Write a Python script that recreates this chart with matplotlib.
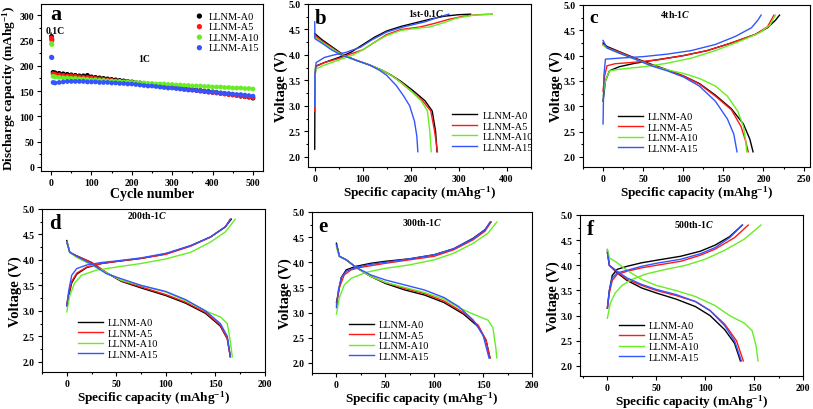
import numpy as np
import matplotlib
matplotlib.use("Agg")
import matplotlib.pyplot as plt
from matplotlib.ticker import AutoMinorLocator, MultipleLocator

plt.rcParams['font.family'] = ['Liberation Serif', 'DejaVu Serif']
plt.rcParams['font.weight'] = 'bold'
plt.rcParams['axes.labelweight'] = 'bold'
plt.rcParams['mathtext.fontset'] = 'custom'
plt.rcParams['mathtext.rm'] = 'Liberation Serif:bold'
plt.rcParams['mathtext.it'] = 'Liberation Serif:bold:italic'
plt.rcParams['mathtext.bf'] = 'Liberation Serif:bold'

samples = ["LLNM-A0", "LLNM-A5", "LLNM-A10", "LLNM-A15"]
colors = ["#000000", "#ff1a1a", "#66ee22", "#3355ff"]

# ---- panel a: discharge capacity vs cycle ----
cyc_01C = [1, 2]
a_A0_01C = [258, 252]
a_A5_01C = [255, 250]
a_A10_01C = [244, 242]
a_A15_01C = [217, 216]

cyc_1C = [5] + list(range(10, 501, 10))
a_A0_1C = [187, 186, 185, 184, 183, 182, 181, 180, 180, 181, 178, 177, 176, 175, 174, 173, 172,
           171, 170, 169, 168, 167, 166, 165, 164, 163, 162, 161, 160, 159, 158, 157, 156, 155,
           154, 153, 152, 151, 150, 149, 148, 147, 146, 145, 144, 143, 142, 140, 139, 138, 136]
a_A5_1C = [184, 183, 182, 181, 180, 180, 179, 178, 177, 177, 176, 175, 174, 173, 172, 171, 170,
           169, 168, 168, 167, 166, 165, 164, 163, 162, 161, 160, 159, 158, 157, 156, 155, 154,
           153, 152, 151, 150, 149, 148, 147, 146, 145, 144, 143, 142, 141, 140, 139, 138, 137]
a_A10_1C = [179, 178, 177, 176, 176, 175, 175, 174, 174, 173, 172, 172, 171, 171, 170, 170, 169,
            169, 168, 168, 167, 167, 166, 166, 165, 165, 164, 164, 164, 163, 163, 162, 162, 161,
            161, 160, 160, 160, 159, 159, 158, 158, 158, 157, 157, 156, 156, 156, 155, 155, 154]
a_A15_1C = [167, 166, 167, 168, 169, 169, 169, 169, 169, 168, 168, 168, 167, 167, 167, 166, 166,
            165, 165, 164, 164, 163, 162, 161, 160, 160, 159, 158, 157, 156, 156, 155, 154, 153,
            152, 152, 151, 150, 149, 148, 148, 147, 146, 145, 145, 144, 143, 143, 142, 141, 140]

# ---- panel b: 1st cycle 0.1C, (capacity, voltage) ----
b_A0_chg = [(0, 2.15), (0.5, 3.5), (2, 3.78), (20, 3.85), (50, 3.95), (75, 4.05), (100, 4.2),
            (125, 4.35), (150, 4.47), (180, 4.56), (210, 4.63), (240, 4.70), (270, 4.76),
            (300, 4.79), (325, 4.8)]
b_A5_chg = [(0, 2.9), (0.5, 3.5), (2, 3.77), (20, 3.85), (50, 3.93), (75, 4.02), (100, 4.1),
            (125, 4.25), (150, 4.4), (180, 4.5), (220, 4.55), (250, 4.62), (280, 4.7),
            (310, 4.76), (340, 4.79), (370, 4.8)]
b_A10_chg = [(0, 3.0), (0.5, 3.5), (2, 3.72), (20, 3.8), (50, 3.9), (80, 4.0), (100, 4.1),
             (125, 4.25), (150, 4.38), (180, 4.48), (210, 4.52), (240, 4.55), (265, 4.62),
             (295, 4.72), (330, 4.78), (370, 4.8)]
b_A15_chg = [(0, 3.0), (0.5, 3.6), (3, 3.85), (20, 3.95), (40, 4.0), (65, 4.05), (95, 4.15),
             (120, 4.3), (150, 4.45), (185, 4.55), (230, 4.65), (260, 4.75), (280, 4.8)]
b_A0_dis = [(0, 4.42), (15, 4.3), (30, 4.2), (45, 4.1), (60, 4.0), (85, 3.9), (115, 3.8),
            (140, 3.7), (160, 3.6), (180, 3.48), (205, 3.3), (230, 3.1), (245, 2.9),
            (252, 2.5), (255, 2.1)]
b_A5_dis = [(0, 4.38), (15, 4.27), (30, 4.18), (45, 4.08), (60, 4.0), (85, 3.9), (115, 3.8),
            (140, 3.7), (160, 3.6), (180, 3.46), (200, 3.3), (225, 3.1), (242, 2.9),
            (250, 2.5), (256, 2.1)]
b_A10_dis = [(0, 4.35), (15, 4.25), (30, 4.16), (45, 4.07), (60, 3.99), (85, 3.9), (115, 3.8),
             (140, 3.7), (160, 3.6), (180, 3.46), (200, 3.3), (222, 3.1), (235, 2.9),
             (240, 2.5), (243, 2.1)]
b_A15_dis = [(0, 4.65), (0.5, 4.32), (20, 4.2), (35, 4.1), (55, 4.0), (85, 3.9), (115, 3.8),
             (135, 3.7), (150, 3.6), (170, 3.4), (185, 3.2), (198, 3.0), (208, 2.7),
             (213, 2.4), (215, 2.1)]

# ---- panel c: 4th cycle 1C ----
c_A0_chg = [(0, 3.1), (3, 3.5), (8, 3.7), (20, 3.78), (40, 3.85), (60, 3.9), (100, 4.0),
            (130, 4.1), (160, 4.25), (190, 4.42), (205, 4.55), (215, 4.7), (220, 4.8)]
c_A5_chg = [(0, 3.3), (2, 3.6), (5, 3.8), (15, 3.84), (40, 3.87), (70, 3.92), (100, 4.0),
            (130, 4.1), (160, 4.25), (190, 4.42), (205, 4.57), (213, 4.8)]
c_A10_chg = [(0, 3.2), (3, 3.5), (8, 3.7), (20, 3.73), (50, 3.78), (80, 3.85), (110, 3.95),
             (140, 4.1), (170, 4.28), (195, 4.45), (208, 4.6), (215, 4.8)]
c_A15_chg = [(0, 2.65), (1, 3.6), (3, 3.93), (20, 3.95), (50, 3.98), (80, 4.03), (110, 4.1),
             (140, 4.22), (165, 4.38), (185, 4.55), (193, 4.7), (197, 4.8)]
c_A0_dis = [(0, 4.25), (5, 4.18), (20, 4.08), (40, 3.95), (60, 3.83), (80, 3.72), (100, 3.6),
            (120, 3.45), (140, 3.22), (160, 2.95), (175, 2.65), (183, 2.35), (187, 2.1)]
c_A5_dis = [(0, 4.22), (5, 4.16), (20, 4.07), (40, 3.94), (60, 3.82), (80, 3.71), (100, 3.6),
            (120, 3.44), (140, 3.2), (160, 2.93), (172, 2.6), (178, 2.3), (181, 2.1)]
c_A10_dis = [(0, 4.2), (5, 4.15), (20, 4.05), (40, 3.93), (60, 3.8), (80, 3.72), (100, 3.65),
             (120, 3.55), (140, 3.4), (155, 3.2), (168, 2.9), (175, 2.6), (178, 2.3), (179, 2.1)]
c_A15_dis = [(0, 4.3), (5, 4.15), (20, 4.05), (40, 3.93), (60, 3.8), (80, 3.7), (100, 3.58),
             (120, 3.4), (140, 3.1), (155, 2.75), (163, 2.45), (167, 2.1)]

# ---- panel d: 200th cycle 1C ----
d_A0_chg = [(0, 3.1), (2, 3.3), (5, 3.55), (10, 3.72), (20, 3.85), (35, 3.93), (50, 3.97),
            (75, 4.03), (100, 4.12), (125, 4.28), (145, 4.45), (160, 4.65), (166, 4.8)]
d_A5_chg = [(0, 3.12), (2, 3.35), (5, 3.58), (10, 3.74), (20, 3.86), (35, 3.93), (50, 3.97),
            (75, 4.03), (100, 4.11), (125, 4.27), (145, 4.45), (160, 4.65), (165, 4.8)]
d_A10_chg = [(0, 2.98), (3, 3.3), (8, 3.55), (15, 3.7), (30, 3.8), (50, 3.86), (75, 3.93),
             (100, 4.02), (125, 4.15), (145, 4.35), (160, 4.55), (170, 4.8)]
d_A15_chg = [(0, 3.1), (2, 3.4), (5, 3.7), (10, 3.83), (20, 3.9), (35, 3.95), (50, 3.98),
             (75, 4.04), (100, 4.13), (125, 4.28), (145, 4.45), (160, 4.65), (165, 4.8)]
d_A0_dis = [(0, 4.38), (3, 4.15), (10, 4.08), (25, 3.95), (40, 3.75), (55, 3.58), (75, 3.45),
            (100, 3.3), (120, 3.15), (140, 2.95), (155, 2.7), (162, 2.45), (165, 2.1)]
d_A5_dis = [(0, 4.36), (3, 4.15), (10, 4.08), (25, 3.95), (40, 3.75), (55, 3.59), (75, 3.47),
            (100, 3.32), (120, 3.17), (140, 2.97), (155, 2.72), (162, 2.45), (165, 2.1)]
d_A10_dis = [(0, 4.35), (3, 4.15), (10, 4.05), (25, 3.9), (40, 3.75), (55, 3.6), (75, 3.5),
             (100, 3.37), (120, 3.2), (140, 3.0), (155, 2.88), (162, 2.75), (165, 2.4),
             (167, 2.1)]
d_A15_dis = [(0, 4.35), (3, 4.15), (10, 4.07), (25, 3.92), (40, 3.73), (55, 3.63), (75, 3.5),
             (100, 3.38), (120, 3.22), (140, 3.0), (155, 2.75), (162, 2.5), (165, 2.1)]

# ---- panel e: 300th cycle 1C ----
e_A0_chg = [(0, 3.2), (2, 3.4), (5, 3.7), (10, 3.85), (20, 3.92), (35, 3.98), (50, 4.02),
            (75, 4.07), (100, 4.15), (120, 4.27), (140, 4.48), (152, 4.65), (158, 4.8)]
e_A5_chg = [(0, 3.15), (3, 3.5), (8, 3.75), (15, 3.85), (25, 3.9), (50, 3.98), (75, 4.05),
            (100, 4.12), (120, 4.25), (140, 4.45), (152, 4.62), (158, 4.8)]
e_A10_chg = [(0, 2.97), (3, 3.3), (8, 3.55), (15, 3.68), (30, 3.8), (50, 3.88), (75, 3.95),
             (100, 4.05), (120, 4.18), (140, 4.38), (155, 4.58), (164, 4.8)]
e_A15_chg = [(0, 3.1), (2, 3.45), (5, 3.7), (10, 3.82), (20, 3.9), (35, 3.96), (50, 4.0),
             (75, 4.07), (100, 4.15), (120, 4.27), (140, 4.47), (152, 4.65), (157, 4.8)]
e_A0_dis = [(0, 4.38), (3, 4.12), (10, 4.05), (20, 3.9), (35, 3.72), (50, 3.58), (70, 3.45),
            (90, 3.35), (110, 3.2), (130, 2.97), (145, 2.72), (153, 2.45), (157, 2.1)]
e_A5_dis = [(0, 4.35), (3, 4.12), (10, 4.05), (20, 3.9), (35, 3.72), (50, 3.6), (70, 3.48),
            (90, 3.38), (110, 3.23), (130, 3.0), (145, 2.75), (153, 2.45), (157, 2.1)]
e_A10_dis = [(0, 4.3), (3, 4.12), (10, 4.05), (20, 3.9), (35, 3.72), (50, 3.6), (70, 3.5),
             (90, 3.4), (110, 3.27), (125, 3.1), (140, 2.97), (155, 2.85), (160, 2.7),
             (163, 2.3), (164, 2.1)]
e_A15_dis = [(0, 4.35), (3, 4.12), (10, 4.05), (20, 3.9), (35, 3.75), (50, 3.65), (70, 3.55),
             (90, 3.45), (110, 3.3), (125, 3.12), (140, 2.85), (150, 2.55), (156, 2.1)]

# ---- panel f: 500th cycle 1C ----
f_A0_chg = [(0, 3.15), (2, 3.5), (5, 3.8), (10, 3.92), (20, 3.98), (35, 4.05), (50, 4.1),
            (75, 4.18), (95, 4.28), (110, 4.4), (125, 4.57), (138, 4.8)]
f_A5_chg = [(0, 3.15), (2, 3.45), (5, 3.7), (10, 3.82), (20, 3.88), (35, 3.95), (50, 4.0),
            (75, 4.08), (95, 4.2), (110, 4.32), (130, 4.55), (144, 4.8)]
f_A10_chg = [(0, 2.95), (3, 3.25), (8, 3.45), (15, 3.6), (25, 3.72), (40, 3.83), (60, 3.92),
             (80, 4.0), (100, 4.12), (120, 4.3), (140, 4.52), (157, 4.8)]
f_A15_chg = [(0, 3.15), (2, 3.5), (5, 3.75), (10, 3.85), (20, 3.9), (35, 3.98), (50, 4.04),
             (75, 4.12), (95, 4.23), (110, 4.35), (125, 4.55), (138, 4.8)]
f_A0_dis = [(0, 4.3), (2, 4.0), (10, 3.85), (20, 3.7), (35, 3.55), (50, 3.45), (70, 3.33),
            (90, 3.18), (105, 3.0), (120, 2.72), (130, 2.45), (136, 2.1)]
f_A5_dis = [(0, 4.25), (2, 4.0), (10, 3.87), (20, 3.72), (35, 3.6), (50, 3.5), (70, 3.4),
            (90, 3.28), (105, 3.1), (120, 2.83), (132, 2.5), (139, 2.1)]
f_A10_dis = [(0, 4.32), (2, 4.15), (10, 4.05), (20, 3.9), (35, 3.72), (50, 3.6), (70, 3.5),
             (90, 3.38), (110, 3.2), (125, 3.0), (140, 2.85), (148, 2.7), (152, 2.4), (154, 2.1)]
f_A15_dis = [(0, 4.25), (2, 4.0), (10, 3.88), (20, 3.75), (35, 3.62), (50, 3.52), (70, 3.42),
             (90, 3.28), (105, 3.1), (120, 2.8), (130, 2.5), (137, 2.1)]

W, H = 813, 410
fig = plt.figure(figsize=(W / 100, H / 100), dpi=100)


def box(x0, y0, x1, y1):
    return fig.add_axes([x0 / W, 1 - y1 / H, (x1 - x0) / W, (y1 - y0) / H])


def style(ax):
    ax.tick_params(which='both', direction='out', top=False, right=False, labelsize=7, width=0.8,
                   pad=2)
    ax.tick_params(which='major', length=3)
    ax.tick_params(which='minor', length=1.5)
    ax.xaxis.set_minor_locator(AutoMinorLocator(2))
    ax.yaxis.set_minor_locator(AutoMinorLocator(2))
    for lbl in ax.get_xticklabels() + ax.get_yticklabels():
        lbl.set_fontweight('bold')
    for s in ax.spines.values():
        s.set_linewidth(0.8)


legend_font = {'family': 'Liberation Serif', 'weight': 'normal', 'size': 7.5}

# panel a
ax = box(41, 5, 263, 172)
one_C = [a_A0_1C, a_A5_1C, a_A10_1C, a_A15_1C]
tenth_C = [a_A0_01C, a_A5_01C, a_A10_01C, a_A15_01C]
for lab, col, y1, y0 in zip(samples, colors, one_C, tenth_C):
    ax.scatter(cyc_01C, y0, s=12, color=col, edgecolors='none')
    ax.scatter(cyc_1C, y1, s=12, color=col, edgecolors='none', label=lab)
ax.set_xlim(-25, 525)
ax.set_ylim(-8, 322)
ax.xaxis.set_major_locator(MultipleLocator(100))
ax.yaxis.set_major_locator(MultipleLocator(50))
style(ax)
ax.set_xlabel("Cycle number", fontsize=10, fontweight='bold', labelpad=0)
ax.set_ylabel(r"Discharge capacity (mAhg$^{-1}$)", fontsize=9.5, fontweight='bold', labelpad=1)
ax.text(0.04, 1.0, "a", transform=ax.transAxes, fontsize=16, fontweight='bold',
        va='top', ha='left')
ax.text(11, 269, "0.1C", fontsize=7, fontweight='bold', ha='center', va='center')
ax.text(230, 214, "1C", fontsize=7, fontweight='bold', ha='center', va='center')
ax.legend(loc='upper left', bbox_to_anchor=(0.69, 0.955), frameon=False, prop=legend_font,
          handlelength=1.0, handletextpad=0.4, labelspacing=0.12, borderpad=0,
          borderaxespad=0, markerscale=1.1)

panels = [
    ("b", (308, 5, 531, 168), (-14, 451), 100, "1st-0.1$\\mathit{C}$", (0.53, 0.95),
     (0.646, 0.345), 15,
     [b_A0_chg, b_A5_chg, b_A10_chg, b_A15_chg], [b_A0_dis, b_A5_dis, b_A10_dis, b_A15_dis]),
    ("c", (583, 6, 810, 168), (-25, 258), 50, "4th-1$\\mathit{C}$", (0.405, 0.95),
     (0.154, 0.34), 14,
     [c_A0_chg, c_A5_chg, c_A10_chg, c_A15_chg], [c_A0_dis, c_A5_dis, c_A10_dis, c_A15_dis]),
    ("d", (42, 210, 265, 373), (-25, 200), 50, "200th-1$\\mathit{C}$", (0.47, 0.965),
     (0.161, 0.332), 15,
     [d_A0_chg, d_A5_chg, d_A10_chg, d_A15_chg], [d_A0_dis, d_A5_dis, d_A10_dis, d_A15_dis]),
    ("e", (312, 213, 532, 374), (-25, 200), 50, "300th-1$\\mathit{C}$", (0.50, 0.94),
     (0.168, 0.33), 15,
     [e_A0_chg, e_A5_chg, e_A10_chg, e_A15_chg], [e_A0_dis, e_A5_dis, e_A10_dis, e_A15_dis]),
    ("f", (580, 216, 803, 377), (-28, 200), 50, "500th-1$\\mathit{C}$", (0.51, 0.948),
     (0.175, 0.342), 15,
     [f_A0_chg, f_A5_chg, f_A10_chg, f_A15_chg], [f_A0_dis, f_A5_dis, f_A10_dis, f_A15_dis]),
]

for letter, rect, xlim, xstep, title, tpos, lpos, lsize, chg, dis in panels:
    ax = box(*rect)
    for lab, col, c, d in zip(samples, colors, chg, dis):
        c = np.array(c)
        d = np.array(d)
        ax.plot(c[:, 0], c[:, 1], color=col, lw=1.0, label=lab)
        ax.plot(d[:, 0], d[:, 1], color=col, lw=1.0)
    ax.set_xlim(*xlim)
    ax.set_ylim(1.8, 5.0)
    ax.xaxis.set_major_locator(MultipleLocator(xstep))
    ax.yaxis.set_major_locator(MultipleLocator(0.5))
    ax.yaxis.set_major_formatter(plt.FormatStrFormatter('%.1f'))
    style(ax)
    ax.set_xlabel(r"Specific capacity (mAhg$^{-1}$)", fontsize=9.5, fontweight='bold',
                  labelpad=0)
    ax.set_ylabel("Voltage (V)", fontsize=10.5, fontweight='bold', labelpad=1)
    ax.text(0.03, 0.975, letter, transform=ax.transAxes, fontsize=lsize, fontweight='bold',
            va='top', ha='left')
    ax.text(tpos[0], tpos[1], title, transform=ax.transAxes, fontsize=7, fontweight='bold',
            ha='center', va='center')
    ax.legend(loc='upper left', bbox_to_anchor=lpos, frameon=False, prop=legend_font,
              handlelength=2.4, handletextpad=0.5, labelspacing=0.12, borderpad=0,
              borderaxespad=0)

fig.savefig("out.png", dpi=100)
